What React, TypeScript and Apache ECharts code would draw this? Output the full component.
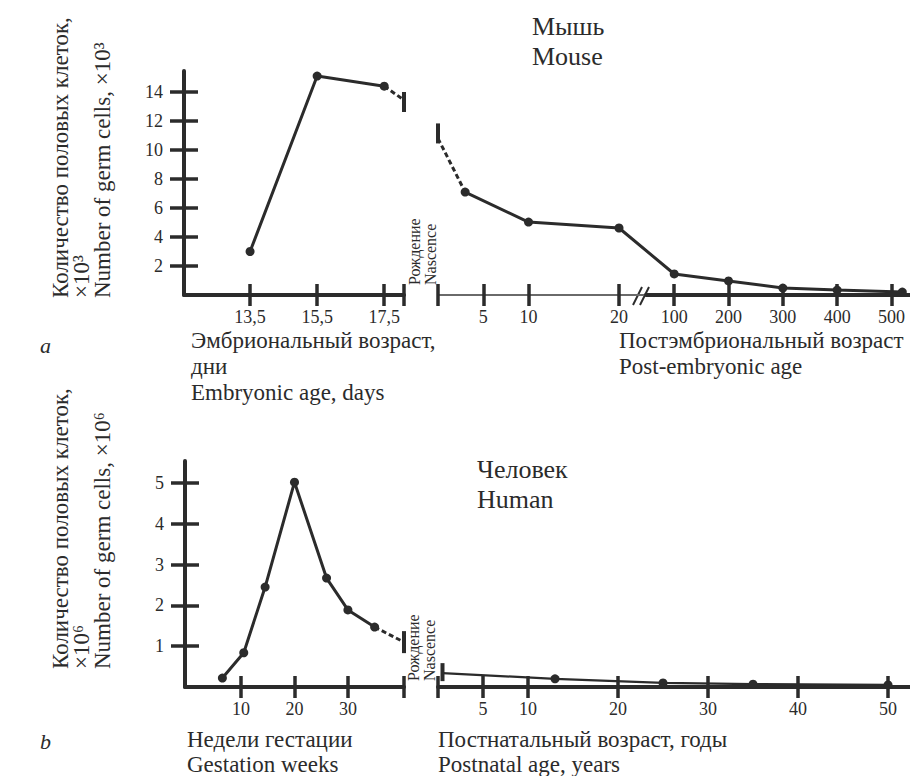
import React, { useEffect, useRef } from 'react';
import * as echarts from 'echarts';

// ---------- Data ----------
// Mouse, embryonic age (days) -> germ cells x10^3
const mouseEmbDays = [13.5, 15.5, 17.5];
const mouseEmbCells = [3, 15.1, 14.4];
const mouseEmbExtDays = [17.5, 18.09];
const mouseEmbExtCells = [14.4, 13.45];

// Mouse, post-embryonic age (days after birth)
const mousePostDays = [3, 10, 20, 100, 200, 300, 400, 520];
const mousePostCells = [7.1, 5.03, 4.62, 1.45, 0.97, 0.48, 0.34, 0.2];
const mousePostExtDays = [0, 3];
const mousePostExtCells = [10.8, 7.1];

const mouseYTicks = [2, 4, 6, 8, 10, 12, 14];
const mouseEmbTicks = [13.5, 15.5, 17.5];
const mousePostTicks = [0, 5, 10, 20, 100, 200, 300, 400, 500];
const mousePostLabels = [5, 10, 20, 100, 200, 300, 400, 500];

// Human, gestation weeks -> germ cells x10^6
const humanGestWeeks = [6.5, 10.5, 14.5, 20, 26, 30, 35];
const humanGestCells = [0.22, 0.84, 2.45, 5.02, 2.67, 1.89, 1.47];
const humanGestExtWeeks = [35, 40.5];
const humanGestExtCells = [1.47, 1.1];

// Human, postnatal age (years)
const humanPostYears = [0.5, 13, 25, 35, 50];
const humanPostCells = [0.34, 0.2, 0.1, 0.07, 0.05];

const humanYTicks = [1, 2, 3, 4, 5];
const humanGestTicks = [10, 20, 30];
const humanPostTicks = [0, 5, 10, 20, 30, 40, 50];
const humanPostLabels = [5, 10, 20, 30, 40, 50];

// ---------- Broken post-embryonic scale (0–20 days expanded, 100+ days compressed) ----------
const compress = (d: number) => (d <= 20 ? d : 26.1 + (d - 100) * 0.06);
const expand = (v: number) => (v <= 20.5 ? v : 100 + (v - 26.1) / 0.06);

const FONT = "'Liberation Serif', 'DejaVu Serif', serif";
const INK = '#2b2b2b';

function txt(x: number, baseline: number, text: string, size: number, italic = false) {
  return {
    type: 'text',
    x,
    y: baseline - 0.34 * size,
    silent: true,
    style: {
      text,
      fill: INK,
      fontSize: size,
      fontFamily: FONT,
      fontStyle: italic ? 'italic' : 'normal',
      align: 'left',
      verticalAlign: 'middle',
      textAlign: 'left',
      textVerticalAlign: 'middle',
    },
  };
}

function vtxt(xMid: number, yStart: number, text: string, size: number) {
  return {
    type: 'text',
    x: xMid,
    y: yStart,
    rotation: Math.PI / 2,
    silent: true,
    style: {
      text,
      fill: INK,
      fontSize: size,
      fontFamily: FONT,
      align: 'left',
      verticalAlign: 'middle',
      textAlign: 'left',
      textVerticalAlign: 'middle',
    },
  };
}

const tickStyle = { color: INK, width: 3.5 };
const labelStyle = { fontSize: 18, fontFamily: FONT, color: INK };

function xPair(
  gridIndex: number,
  min: number,
  max: number,
  ticks: number[],
  labels: number[],
  fmt: (v: number) => string,
  lineColor = INK,
  lineWidth = 4
) {
  return [
    {
      type: 'value',
      gridIndex,
      min,
      max,
      position: 'bottom',
      axisLine: { show: true, onZero: false, lineStyle: { color: lineColor, width: lineWidth } },
      axisTick: { show: true, inside: false, length: 11, customValues: ticks, lineStyle: tickStyle },
      axisLabel: { show: true, customValues: labels, formatter: fmt, margin: 13, ...labelStyle },
      splitLine: { show: false },
    },
    {
      type: 'value',
      gridIndex,
      min,
      max,
      position: 'bottom',
      axisLine: { show: false, onZero: false },
      axisTick: { show: true, inside: true, length: 11, customValues: ticks, lineStyle: tickStyle },
      axisLabel: { show: false },
      splitLine: { show: false },
    },
  ];
}

function yPair(gridIndex: number, max: number, ticks: number[]) {
  return [
    {
      type: 'value',
      gridIndex,
      min: 0,
      max,
      position: 'left',
      axisLine: { show: true, onZero: false, lineStyle: { color: INK, width: 4 } },
      axisTick: { show: true, inside: false, length: 14, customValues: ticks, lineStyle: tickStyle },
      axisLabel: { show: true, customValues: ticks, margin: 21, ...labelStyle },
      splitLine: { show: false },
    },
    {
      type: 'value',
      gridIndex,
      min: 0,
      max,
      position: 'left',
      axisLine: { show: false, onZero: false },
      axisTick: { show: true, inside: true, length: 14, customValues: ticks, lineStyle: tickStyle },
      axisLabel: { show: false },
      splitLine: { show: false },
    },
  ];
}

const yHidden = (gridIndex: number, max: number) => ({ type: 'value', gridIndex, min: 0, max, show: false });

const lineBase = {
  type: 'line',
  symbol: 'circle',
  symbolSize: 9,
  itemStyle: { color: INK },
  lineStyle: { color: INK, width: 3 },
  silent: true,
  clip: false,
  z: 3,
};
const dashedBase = {
  ...lineBase,
  lineStyle: { color: INK, width: 3, type: [5, 3] },
  z: 2,
};

const MOUSE_MAX = 15.45;
const HUMAN_MAX = 5.54;

function buildOption() {
  const xComma = (v: number) => String(v).replace('.', ',');
  const xPost = (v: number) => String(Math.round(expand(v)));
  const xPlain = (v: number) => String(v);

  // x axes: 0,1 -> grid0 | 2,3 -> grid1 | 4 -> grid2 | 5,6 -> grid3 | 7,8 -> grid4
  const xAxis = [
    ...xPair(0, 11.53, 18.09, [...mouseEmbTicks, 18.09], mouseEmbTicks, xComma),
    ...xPair(1, 0, 52.15, mousePostTicks.map(compress), mousePostLabels.map(compress), xPost, '#6a6a6a', 2),
    {
      type: 'value',
      gridIndex: 2,
      min: 0,
      max: 1,
      position: 'bottom',
      z: 5,
      axisLine: { show: true, onZero: false, lineStyle: { color: INK, width: 4 } },
      axisTick: { show: false },
      axisLabel: { show: false },
      splitLine: { show: false },
    },
    ...xPair(3, -0.5, 40.5, [...humanGestTicks, 40.5], humanGestTicks, xPlain),
    ...xPair(4, 0, 52.44, humanPostTicks, humanPostLabels, xPlain),
  ];

  // y axes: 0,1 -> grid0 | 2 -> grid1 | 3 -> grid2 | 4,5 -> grid3 | 6 -> grid4
  const yAxis = [
    ...yPair(0, MOUSE_MAX, mouseYTicks),
    yHidden(1, MOUSE_MAX),
    yHidden(2, MOUSE_MAX),
    ...yPair(3, HUMAN_MAX, humanYTicks),
    yHidden(4, HUMAN_MAX),
  ];

  const grid = [
    { left: 184, top: 71, width: 220, height: 224 },
    { left: 438, top: 71, width: 472, height: 224 },
    { left: 646, top: 71, width: 264, height: 224 },
    { left: 185, top: 461, width: 219, height: 226 },
    { left: 438, top: 461, width: 472, height: 226 },
  ];

  const breakMark = (h: number, offY = 0) => ({ symbol: 'rect', symbolSize: [4, h], symbolOffset: [0, offY] });

  const series = [
    {
      ...lineBase,
      xAxisIndex: 0,
      yAxisIndex: 0,
      data: mouseEmbDays.map((d, i) => [d, mouseEmbCells[i]]),
    },
    {
      ...dashedBase,
      xAxisIndex: 0,
      yAxisIndex: 0,
      data: mouseEmbExtDays.map((d, i) =>
        i === mouseEmbExtDays.length - 1
          ? { value: [d, mouseEmbExtCells[i]], ...breakMark(20, 2) }
          : { value: [d, mouseEmbExtCells[i]], symbol: 'none' }
      ),
    },
    {
      ...lineBase,
      xAxisIndex: 2,
      yAxisIndex: 2,
      data: mousePostDays.map((d, i) => [compress(d), mousePostCells[i]]),
    },
    {
      ...dashedBase,
      xAxisIndex: 2,
      yAxisIndex: 2,
      data: mousePostExtDays.map((d, i) =>
        i === 0
          ? { value: [compress(d), mousePostExtCells[i]], ...breakMark(20, -5) }
          : { value: [compress(d), mousePostExtCells[i]], symbol: 'none' }
      ),
    },
    {
      ...lineBase,
      xAxisIndex: 5,
      yAxisIndex: 4,
      data: humanGestWeeks.map((w, i) => [w, humanGestCells[i]]),
    },
    {
      ...dashedBase,
      xAxisIndex: 5,
      yAxisIndex: 4,
      data: humanGestExtWeeks.map((w, i) =>
        i === humanGestExtWeeks.length - 1
          ? { value: [w, humanGestExtCells[i]], ...breakMark(22, 0) }
          : { value: [w, humanGestExtCells[i]], symbol: 'none' }
      ),
    },
    {
      ...lineBase,
      lineStyle: { color: INK, width: 2.2 },
      xAxisIndex: 7,
      yAxisIndex: 6,
      data: humanPostYears.map((y, i) =>
        i === 0 ? { value: [y, humanPostCells[i]], ...breakMark(18, -1) } : [y, humanPostCells[i]]
      ),
    },
  ];

  const graphic = [
    // titles
    txt(532, 35, 'Мышь', 26),
    txt(532, 65, 'Mouse', 26),
    txt(477, 478, 'Человек', 26),
    txt(477, 508, 'Human', 26),
    // y axis names
    vtxt(60, 298, 'Количество половых клеток,', 23),
    vtxt(81, 298, '×10³', 23),
    vtxt(102, 298, 'Number of germ cells, ×10³', 23),
    vtxt(60, 669, 'Количество половых клеток,', 23),
    vtxt(81, 669, '×10⁶', 23),
    vtxt(102, 669, 'Number of germ cells, ×10⁶', 23),
    // x axis names
    txt(191, 348, 'Эмбриональный возраст,', 23),
    txt(191, 374, 'дни', 23),
    txt(191, 400, 'Embryonic age, days', 23),
    txt(619, 348, 'Постэмбриональный возраст', 23),
    txt(619, 374, 'Post-embryonic age', 23),
    txt(187, 747, 'Недели гестации', 23),
    txt(187, 772, 'Gestation weeks', 23),
    txt(438, 747, 'Постнатальный возраст, годы', 23),
    txt(438, 772, 'Postnatal age, years', 23),
    // panel letters
    txt(40, 353, 'a', 22, true),
    txt(40, 749, 'b', 22, true),
    // birth markers
    vtxt(414, 285, 'Рождение', 16),
    vtxt(430, 285, 'Nascence', 16),
    vtxt(413, 681, 'Рождение', 16),
    vtxt(429, 681, 'Nascence', 16),
    // axis break //
    { type: 'line', silent: true, shape: { x1: 633, y1: 305, x2: 642, y2: 287 }, style: { stroke: INK, lineWidth: 2 } },
    { type: 'line', silent: true, shape: { x1: 640, y1: 305, x2: 649, y2: 287 }, style: { stroke: INK, lineWidth: 2 } },
  ];

  return {
    animation: false,
    backgroundColor: '#ffffff',
    grid,
    xAxis,
    yAxis,
    series,
    graphic: { elements: graphic },
  };
}

export default function App() {
  const ref = useRef<HTMLDivElement>(null);
  useEffect(() => {
    if (!ref.current) return;
    const chart = echarts.init(ref.current, null, { renderer: 'svg' });
    chart.setOption(buildOption() as any);
    return () => chart.dispose();
  }, []);
  return (
    <div
      ref={ref}
      style={{ position: 'fixed', left: 0, top: 0, width: 910, height: 776, background: '#fff' }}
    />
  );
}
